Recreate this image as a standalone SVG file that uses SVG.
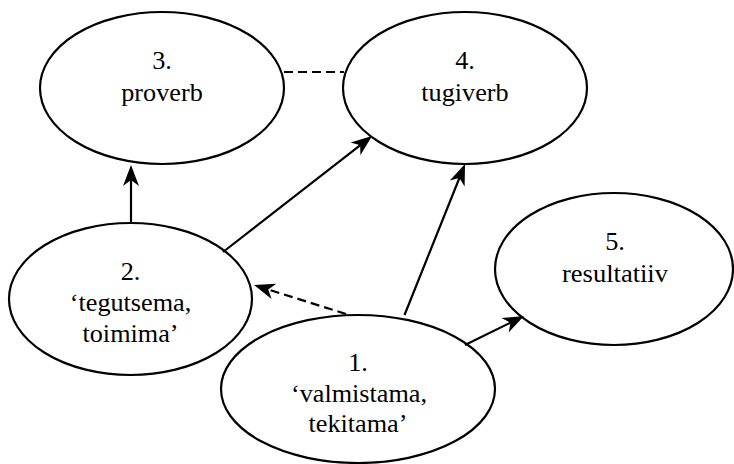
<svg xmlns="http://www.w3.org/2000/svg" width="734" height="464" viewBox="0 0 734 464">
<style>
.n ellipse{fill:#fff;stroke:#000;stroke-width:2.2}
.n text{font-family:'Liberation Serif','Times New Roman',serif;font-size:25px;fill:#000;text-anchor:middle}
.c line{stroke:#000;stroke-width:2.2;fill:none}
.d{stroke-dasharray:9,5}
</style>
<defs>
<marker id="ah" markerUnits="userSpaceOnUse" markerWidth="24" markerHeight="18" refX="7" refY="8" orient="auto" overflow="visible">
<path d="M0,0 L21,8 L0,16 L6,8 Z" fill="#000"/>
</marker>
</defs>
<rect width="734" height="464" fill="#fff"/>
<g id="node3" class="n">
<ellipse cx="162" cy="88" rx="122" ry="76"/>
<text x="162" y="69" textLength="19.7" lengthAdjust="spacingAndGlyphs">3.</text>
<text x="162" y="101" textLength="81.5" lengthAdjust="spacingAndGlyphs">proverb</text>
</g>
<g id="node4" class="n">
<ellipse cx="465" cy="88" rx="122" ry="76"/>
<text x="465" y="69" textLength="19.7" lengthAdjust="spacingAndGlyphs">4.</text>
<text x="465" y="101" textLength="87.3" lengthAdjust="spacingAndGlyphs">tugiverb</text>
</g>
<g id="node2" class="n">
<ellipse cx="130.5" cy="299" rx="121.5" ry="76"/>
<text x="130.5" y="280" textLength="19.7" lengthAdjust="spacingAndGlyphs">2.</text>
<text x="130.5" y="311" textLength="121.5" lengthAdjust="spacingAndGlyphs">‘tegutsema,</text>
<text x="130.5" y="342" textLength="96" lengthAdjust="spacingAndGlyphs">toimima’</text>
</g>
<g id="node5" class="n">
<ellipse cx="614" cy="269" rx="119" ry="76"/>
<text x="615" y="250" textLength="19.7" lengthAdjust="spacingAndGlyphs">5.</text>
<text x="615" y="282" textLength="106" lengthAdjust="spacingAndGlyphs">resultatiiv</text>
</g>
<g id="node1" class="n">
<ellipse cx="358" cy="389" rx="137" ry="74"/>
<text x="358" y="371" textLength="19.7" lengthAdjust="spacingAndGlyphs">1.</text>
<text x="359" y="402" textLength="136" lengthAdjust="spacingAndGlyphs">‘valmistama,</text>
<text x="358" y="432" textLength="99" lengthAdjust="spacingAndGlyphs">tekitama’</text>
</g>
<g id="connectors" class="c">
<line x1="284" y1="72" x2="344" y2="72" class="d"/>
<line x1="131" y1="224" x2="131" y2="179" marker-end="url(#ah)"/>
<line x1="223" y1="252" x2="361" y2="144.6" marker-end="url(#ah)"/>
<line x1="404.5" y1="315" x2="459.8" y2="177" marker-end="url(#ah)"/>
<line x1="465" y1="345" x2="511.4" y2="322.2" marker-end="url(#ah)"/>
<line x1="346" y1="314" x2="267.3" y2="289.2" class="d" marker-end="url(#ah)"/>
</g>
</svg>
